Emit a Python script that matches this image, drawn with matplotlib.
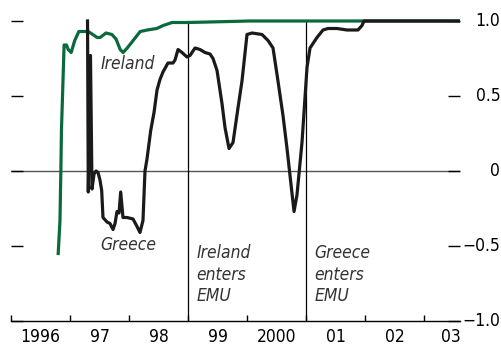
import matplotlib
matplotlib.use('Agg')
import matplotlib.pyplot as plt

# Decimal-year dates and correlation values read for each country
ireland_t = [1996.80, 1996.83, 1996.845, 1996.855, 1996.90, 1996.94, 1996.97, 1997.02,
             1997.05, 1997.08, 1997.15, 1997.22, 1997.31, 1997.46, 1997.51, 1997.61,
             1997.71, 1997.78, 1997.85, 1997.90, 1997.97, 1998.07, 1998.19, 1998.31,
             1998.47, 1998.58, 1998.73, 1999.00, 2000.05, 2003.61]
ireland_v = [-0.55, -0.33, 0.00, 0.27, 0.84, 0.84, 0.81, 0.79,
             0.83, 0.87, 0.93, 0.93, 0.93, 0.89, 0.89, 0.92,
             0.91, 0.88, 0.81, 0.79, 0.82, 0.87, 0.93, 0.94,
             0.95, 0.97, 0.99, 0.99, 1.00, 1.00]

greece_t = [1997.297, 1997.310, 1997.347, 1997.373, 1997.407, 1997.441, 1997.475, 1997.508,
            1997.537, 1997.559, 1997.627, 1997.678, 1997.729, 1997.763, 1997.797, 1997.831,
            1997.859, 1997.898, 1997.966, 1998.068, 1998.136, 1998.186, 1998.237, 1998.271,
            1998.305, 1998.368, 1998.424, 1998.475, 1998.525, 1998.576, 1998.661, 1998.746,
            1998.780, 1998.831, 1998.898, 1998.983, 1999.034, 1999.119, 1999.203, 1999.288,
            1999.373, 1999.424, 1999.492, 1999.576, 1999.627, 1999.695, 1999.763, 1999.847,
            1999.915, 2000.000, 2000.085, 2000.254, 2000.356, 2000.441, 2000.525, 2000.610,
            2000.678, 2000.729, 2000.797, 2000.847, 2000.932, 2001.017, 2001.068, 2001.186,
            2001.288, 2001.373, 2001.525, 2001.695, 2001.881, 2001.949, 2001.983, 2003.61]
greece_v = [1.00, -0.14, 0.77, -0.12, -0.02, 0.00, -0.01, -0.06,
            -0.13, -0.31, -0.34, -0.35, -0.39, -0.35, -0.27, -0.28,
            -0.14, -0.31, -0.31, -0.32, -0.37, -0.41, -0.33, 0.00,
            0.08, 0.27, 0.39, 0.54, 0.61, 0.66, 0.72, 0.72,
            0.74, 0.81, 0.79, 0.76, 0.77, 0.82, 0.81, 0.79,
            0.78, 0.75, 0.67, 0.45, 0.29, 0.15, 0.19, 0.42,
            0.60, 0.91, 0.92, 0.91, 0.87, 0.82, 0.60, 0.37,
            0.15, -0.03, -0.27, -0.16, 0.19, 0.69, 0.82, 0.89,
            0.94, 0.95, 0.95, 0.94, 0.94, 0.97, 1.00, 1.00]

year_ticks = [1996, 1997, 1998, 1999, 2000, 2001, 2002, 2003]
year_label_pos = [1996.5, 1997.5, 1998.5, 1999.5, 2000.5, 2001.5, 2002.5, 2003.46]
year_labels = ['1996', '97', '98', '99', '2000', '01', '02', '03']
y_ticks = [-1.0, -0.5, 0.0, 0.5, 1.0]
y_labels = ['\u22121.0', '\u22120.5', '0', '0.5', '1.0']

emu_dates = [1999.0, 2001.0]
emu_labels = ['Ireland\nenters\nEMU', 'Greece\nenters\nEMU']

# condensed face keeps the labels narrow
plt.rcParams['font.family'] = ['DejaVu Sans']
plt.rcParams['font.stretch'] = 'condensed'
fs = 12.5

fig = plt.figure(figsize=(5.02, 3.46), dpi=100)
ax = fig.add_axes([11 / 502, 25 / 346, 449 / 502, 321 / 346])

green = '#0b6a3c'
ax.axhline(0, color='#555555', lw=1.0, zorder=1)
for d in emu_dates:
    ax.plot([d, d], [-1.0, 1.0], color='black', lw=0.9, zorder=1)

ax.plot(ireland_t, ireland_v, color=green, lw=2.3, zorder=2, solid_joinstyle='round')
ax.plot(greece_t, greece_v, color='#1a1a1a', lw=2.3, zorder=3, solid_joinstyle='round')

ax.set_xlim(1996.0, 2003.61)
ax.set_ylim(-1.0, 1.14)

for s in ['top', 'left', 'right']:
    ax.spines[s].set_visible(False)
ax.spines['bottom'].set_linewidth(1.0)

ax.set_xticks(year_ticks)
ax.set_xticklabels([])
ax.set_xticks(year_label_pos, minor=True)
ax.set_xticklabels(year_labels, minor=True)
ax.tick_params(axis='x', which='major', direction='in', length=4.5, width=1.0)
ax.tick_params(axis='x', which='minor', length=0, pad=5, labelsize=fs)

ax.set_yticks(y_ticks)
ax.set_yticklabels(y_labels)
ax.tick_params(axis='y', which='major', direction='in', length=8.5, width=1.0,
               left=True, right=True, labelleft=False, labelright=True, pad=29, labelsize=fs)
for lbl in ax.get_yticklabels():
    lbl.set_horizontalalignment('right')
    lbl.set_verticalalignment('center')

ax.text(1997.98, 0.71, 'Ireland', style='italic', ha='center', va='center', fontsize=fs, color='#333333')
ax.text(1997.98, -0.49, 'Greece', style='italic', ha='center', va='center', fontsize=fs, color='#333333')
for d, lab in zip(emu_dates, emu_labels):
    ax.text(d + 0.14, -0.69, lab, style='italic', ha='left', va='center', fontsize=fs,
            color='#333333', linespacing=1.28)

fig.savefig('out.png', dpi=100)
